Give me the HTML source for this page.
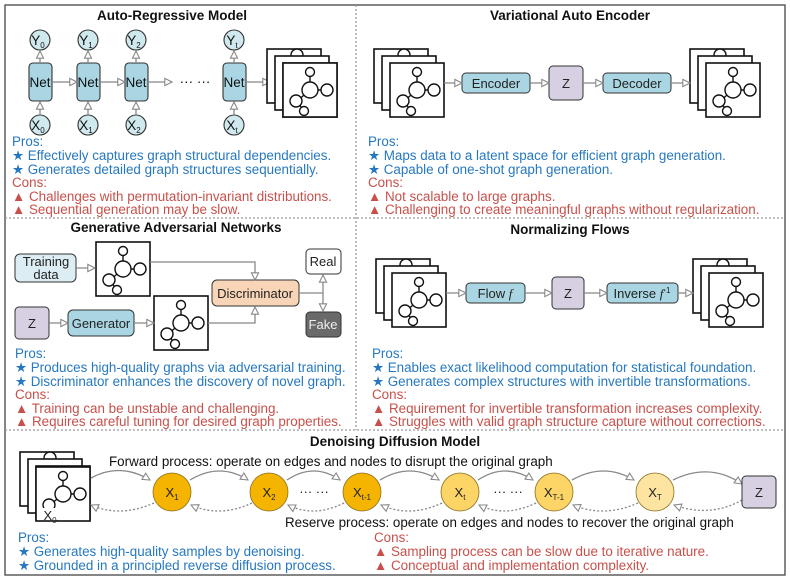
<!DOCTYPE html>
<html><head><meta charset="utf-8"><style>
html,body{margin:0;padding:0;background:#fff}
svg{display:block}
text{font-family:"Liberation Sans",Arial,sans-serif}
.t{font-weight:bold;font-size:13.5px;fill:#111}
.b{fill:#2678c0;font-size:13.4px}
.r{fill:#c8504a;font-size:13.4px}
.lb{font-size:13px;fill:#222}
.ar{stroke:#888;stroke-width:1.3;fill:none}
</style></head><body>
<svg width="790" height="578" viewBox="0 0 790 578" xmlns="http://www.w3.org/2000/svg">
<defs>
<marker id="m" viewBox="0 0 10 10" refX="9" refY="5" markerWidth="9" markerHeight="9" orient="auto" markerUnits="userSpaceOnUse">
<path d="M1,1 L9,5 L1,9 Z" fill="#fff" stroke="#888" stroke-width="1.2"/></marker>
<g id="mol">
<rect x="0" y="0" width="54" height="54" fill="#fff" stroke="#111" stroke-width="1.6"/>
<g stroke="#111" stroke-width="1.4" fill="#fff">
<line x1="27" y1="10" x2="27" y2="27"/><line x1="27" y1="27" x2="44" y2="27"/><line x1="27" y1="27" x2="14" y2="38"/><line x1="14" y1="38" x2="20" y2="47"/>
<circle cx="27" cy="9" r="4.5"/><circle cx="27" cy="27" r="8"/><circle cx="44" cy="27" r="6"/><circle cx="13" cy="38" r="6"/><circle cx="21" cy="48" r="4.5"/>
</g></g>
<g id="stack">
<rect x="0" y="0" width="54" height="54" fill="#fff" stroke="#111" stroke-width="1.6"/>
<circle cx="30" cy="6" r="6" fill="#fff" stroke="#111" stroke-width="1.4"/>
<rect x="8" y="7" width="54" height="54" fill="#fff" stroke="#111" stroke-width="1.6"/>
<use href="#mol" x="16" y="14"/>
</g>
</defs>

<rect x="5" y="5" width="780" height="570" fill="none" stroke="#444" stroke-width="1.3"/>
<g stroke="#999" stroke-width="1.3" stroke-dasharray="2,2">
<line x1="356" y1="5" x2="356" y2="430"/>
<line x1="5" y1="218" x2="785" y2="218"/>
<line x1="5" y1="430" x2="785" y2="430"/>
</g>

<!-- Panel 1 -->
<text class="t" x="172" y="20" text-anchor="middle">Auto-Regressive Model</text>
<g stroke="#333" stroke-width="1.1">
<g fill="#cfe9ee">
<circle cx="40" cy="40" r="10"/><circle cx="88" cy="40" r="10"/><circle cx="136" cy="40" r="10"/><circle cx="234" cy="40" r="10"/>
<circle cx="40" cy="125" r="10"/><circle cx="88" cy="125" r="10"/><circle cx="136" cy="125" r="10"/><circle cx="234" cy="125" r="10"/>
</g>
<g fill="#a9d6e2">
<rect x="29" y="63" width="23" height="38" rx="4"/><rect x="77" y="63" width="23" height="38" rx="4"/><rect x="125" y="63" width="23" height="38" rx="4"/><rect x="223" y="63" width="23" height="38" rx="4"/>
</g></g>
<g class="ar" marker-end="url(#m)">
<line x1="40" y1="63" x2="40" y2="51"/><line x1="88" y1="63" x2="88" y2="51"/><line x1="136" y1="63" x2="136" y2="51"/><line x1="234" y1="63" x2="234" y2="51"/>
<line x1="40" y1="115" x2="40" y2="102"/><line x1="88" y1="115" x2="88" y2="102"/><line x1="136" y1="115" x2="136" y2="102"/><line x1="234" y1="115" x2="234" y2="102"/>
<line x1="52" y1="82" x2="77" y2="82"/><line x1="100" y1="82" x2="125" y2="82"/><line x1="148" y1="82" x2="172" y2="82"/><line x1="246" y1="82" x2="270" y2="82"/>
</g>
<g font-size="13.5" fill="#111" text-anchor="middle">
<text x="40" y="87">Net</text><text x="88" y="87">Net</text><text x="136" y="87">Net</text><text x="234" y="87">Net</text>
<text x="38" y="45">Y<tspan font-size="8" dy="3">0</tspan></text><text x="86" y="45">Y<tspan font-size="8" dy="3">1</tspan></text><text x="134" y="45">Y<tspan font-size="8" dy="3">2</tspan></text><text x="232" y="45">Y<tspan font-size="8" dy="3">t</tspan></text>
<text x="38" y="130">X<tspan font-size="8" dy="3">0</tspan></text><text x="86" y="130">X<tspan font-size="8" dy="3">1</tspan></text><text x="134" y="130">X<tspan font-size="8" dy="3">2</tspan></text><text x="232" y="130">X<tspan font-size="8" dy="3">t</tspan></text>
<text x="195" y="86">··· ···</text>
</g>
<use href="#stack" x="267" y="49"/>
<use href="#mol" x="283" y="63"/>
<text class="b" x="12" y="146">Pros:</text>
<text class="b" x="12" y="160">★ Effectively captures graph structural dependencies.</text>
<text class="b" x="12" y="174">★ Generates detailed graph structures sequentially.</text>
<text class="r" x="12" y="187">Cons:</text>
<text class="r" x="12" y="201">▲ Challenges with permutation-invariant distributions.</text>
<text class="r" x="12" y="214">▲ Sequential generation may be slow.</text>

<!-- Panel 2 -->
<text class="t" x="570" y="20" text-anchor="middle">Variational Auto Encoder</text>
<use href="#stack" x="374" y="49"/>
<use href="#stack" x="690" y="49"/>
<rect x="462" y="73" width="68" height="20" rx="4" fill="#a9d6e2" stroke="#333"/>
<rect x="549" y="66" width="34" height="34" rx="4" fill="#d7d0e2" stroke="#333"/>
<rect x="603" y="73" width="68" height="20" rx="4" fill="#a9d6e2" stroke="#333"/>
<g class="ar" marker-end="url(#m)">
<line x1="444" y1="83" x2="462" y2="83"/><line x1="530" y1="83" x2="549" y2="83"/><line x1="583" y1="83" x2="603" y2="83"/><line x1="671" y1="83" x2="690" y2="83"/>
</g>
<g class="lb" text-anchor="middle"><text x="496" y="88">Encoder</text><text x="566" y="88">Z</text><text x="637" y="88">Decoder</text></g>
<text class="b" x="368" y="146">Pros:</text>
<text class="b" x="368" y="160">★ Maps data to a latent space for efficient graph generation.</text>
<text class="b" x="368" y="174">★ Capable of one-shot graph generation.</text>
<text class="r" x="368" y="187">Cons:</text>
<text class="r" x="368" y="201">▲ Not scalable to large graphs.</text>
<text class="r" x="368" y="214">▲ Challenging to create meaningful graphs without regularization.</text>

<!-- Panel 3 -->
<text class="t" x="176" y="232" text-anchor="middle">Generative Adversarial Networks</text>
<rect x="15" y="254" width="61" height="28" rx="5" fill="#dcedf3" stroke="#333"/>
<text class="lb" x="46" y="266" text-anchor="middle">Training</text><text class="lb" x="46" y="279" text-anchor="middle">data</text>
<use href="#mol" x="96" y="242"/>
<rect x="15" y="307" width="34" height="32" rx="4" fill="#d7d0e2" stroke="#333"/>
<text class="lb" x="32" y="328" text-anchor="middle">Z</text>
<rect x="68" y="310" width="66" height="26" rx="5" fill="#a9d6e2" stroke="#333"/>
<text class="lb" x="101" y="328" text-anchor="middle">Generator</text>
<use href="#mol" x="154" y="296"/>
<rect x="212" y="280" width="87" height="26" rx="5" fill="#f9d5b8" stroke="#333"/>
<text class="lb" x="255" y="298" text-anchor="middle">Discriminator</text>
<rect x="306" y="249" width="35" height="25" rx="4" fill="#fff" stroke="#333"/>
<text class="lb" x="323" y="266" text-anchor="middle">Real</text>
<rect x="306" y="312" width="35" height="25" rx="4" fill="#6a6a6a" stroke="#333"/>
<text x="323" y="329" text-anchor="middle" font-size="13" fill="#eee">Fake</text>
<g class="ar" marker-end="url(#m)">
<line x1="76" y1="268" x2="95" y2="268"/>
<line x1="49" y1="323" x2="68" y2="323"/>
<line x1="134" y1="323" x2="154" y2="323"/>
<polyline points="150,262 255,262 255,280"/>
<polyline points="208,323 255,323 255,307"/>
<line x1="323" y1="293" x2="323" y2="275"/>
<line x1="323" y1="293" x2="323" y2="311"/>
</g>
<line x1="299" y1="293" x2="323" y2="293" stroke="#888" stroke-width="1.3"/>
<text class="b" x="15" y="358">Pros:</text>
<text class="b" x="15" y="372">★ Produces high-quality graphs via adversarial training.</text>
<text class="b" x="15" y="386">★ Discriminator enhances the discovery of novel graph.</text>
<text class="r" x="15" y="399">Cons:</text>
<text class="r" x="15" y="413">▲ Training can be unstable and challenging.</text>
<text class="r" x="15" y="426">▲ Requires careful tuning for desired graph properties.</text>

<!-- Panel 4 -->
<text class="t" x="570" y="234" text-anchor="middle">Normalizing Flows</text>
<use href="#stack" x="376" y="259"/>
<use href="#stack" x="693" y="259"/>
<rect x="466" y="283" width="59" height="20" rx="4" fill="#a9d6e2" stroke="#333"/>
<rect x="552" y="277" width="32" height="32" rx="4" fill="#d7d0e2" stroke="#333"/>
<rect x="607" y="283" width="71" height="20" rx="4" fill="#a9d6e2" stroke="#333"/>
<g class="ar" marker-end="url(#m)">
<line x1="446" y1="293" x2="466" y2="293"/><line x1="525" y1="293" x2="552" y2="293"/><line x1="584" y1="293" x2="607" y2="293"/><line x1="678" y1="293" x2="693" y2="293"/>
</g>
<g class="lb" text-anchor="middle"><text x="495" y="298">Flow <tspan font-style="italic" font-family="Liberation Serif">f</tspan></text><text x="568" y="298">Z</text><text x="642" y="298">Inverse <tspan font-style="italic" font-family="Liberation Serif">f</tspan><tspan font-size="8" dy="-5">-1</tspan></text></g>
<text class="b" x="372" y="358">Pros:</text>
<text class="b" x="372" y="372">★ Enables exact likelihood computation for statistical foundation.</text>
<text class="b" x="372" y="386">★ Generates complex structures with invertible transformations.</text>
<text class="r" x="372" y="399">Cons:</text>
<text class="r" x="372" y="413">▲ Requirement for invertible transformation increases complexity.</text>
<text class="r" x="372" y="426">▲ Struggles with valid graph structure capture without corrections.</text>

<!-- Panel 5 -->
<text class="t" x="395" y="446" text-anchor="middle">Denoising Diffusion Model</text>
<use href="#stack" x="20" y="452"/>
<use href="#mol" x="36" y="467"/>
<rect x="37" y="508" width="30" height="12" fill="#fff"/>
<text class="lb" x="50" y="520" text-anchor="middle">X<tspan font-size="8" dy="3">0</tspan></text>
<text x="109" y="466" font-size="13.4" fill="#111">Forward process: operate on edges and nodes to disrupt the original graph</text>
<text x="285" y="527" font-size="13.4" fill="#111">Reserve process: operate on edges and nodes to recover the original graph</text>
<g class="ar" marker-end="url(#m)">
<path d="M91,478 Q120,462 150,480"/>
<path d="M190,480 Q220,462 248,480"/>
<path d="M287,480 Q314,462 340,480"/>
<path d="M380,480 Q410,462 439,480"/>
<path d="M478,480 Q505,462 533,480"/>
<path d="M572,480 Q604,462 634,480"/>
<path d="M673,480 Q710,462 742,484"/>
</g>
<g class="ar" stroke-dasharray="2,2" marker-end="url(#m)">
<path d="M154,503 Q120,518 91,505"/>
<path d="M252,503 Q220,518 191,505"/>
<path d="M344,503 Q314,518 288,505"/>
<path d="M442,503 Q410,518 381,505"/>
<path d="M536,503 Q505,518 479,505"/>
<path d="M638,503 Q604,518 573,505"/>
<path d="M742,500 Q710,518 674,505"/>
</g>
<g stroke="#8a7020" stroke-width="0.8">
<circle cx="172" cy="492" r="19" fill="#f5b400"/>
<circle cx="269" cy="492" r="19" fill="#f5b400"/>
<circle cx="362" cy="492" r="19" fill="#f5b400"/>
<circle cx="460" cy="492" r="19" fill="#fdd466"/>
<circle cx="554" cy="492" r="19" fill="#fdd466"/>
<circle cx="655" cy="492" r="19" fill="#fde4a0"/>
</g>
<rect x="742" y="476" width="34" height="32" rx="4" fill="#d7d0e2" stroke="#333"/>
<g class="lb" text-anchor="middle">
<text x="759" y="497">Z</text>
<text x="172" y="497">X<tspan font-size="8" dy="3">1</tspan></text>
<text x="269" y="497">X<tspan font-size="8" dy="3">2</tspan></text>
<text x="362" y="497">X<tspan font-size="8" dy="3">t-1</tspan></text>
<text x="460" y="497">X<tspan font-size="8" dy="3">t</tspan></text>
<text x="554" y="497">X<tspan font-size="8" dy="3">T-1</tspan></text>
<text x="655" y="497">X<tspan font-size="8" dy="3">T</tspan></text>
<text x="314" y="496">··· ···</text>
<text x="508" y="496">··· ···</text>
</g>
<text class="b" x="18" y="542">Pros:</text>
<text class="b" x="18" y="556">★ Generates high-quality samples by denoising.</text>
<text class="b" x="18" y="570">★ Grounded in a principled reverse diffusion process.</text>
<text class="r" x="374" y="542">Cons:</text>
<text class="r" x="374" y="556">▲ Sampling process can be slow due to iterative nature.</text>
<text class="r" x="374" y="570">▲ Conceptual and implementation complexity.</text>
</svg>
</body></html>
